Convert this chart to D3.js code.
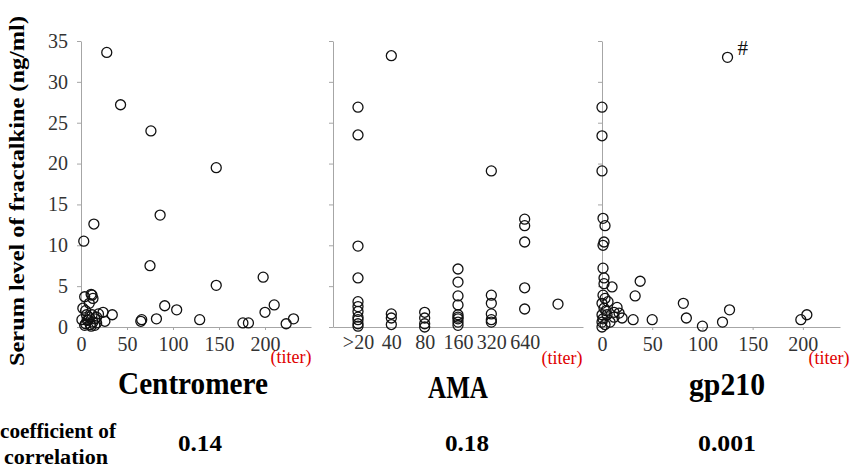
<!DOCTYPE html>
<html>
<head>
<meta charset="utf-8">
<script src="https://cdn.jsdelivr.net/npm/d3@7"></script>
<style>
  body { margin: 0; background: #fff; }
  svg { display: block; font-family: "Liberation Serif", "Times New Roman", serif; }
</style>
</head>
<body>
<svg id="chart"></svg>
<script>
// Serum fractalkine (ng/ml) vs. antibody titer, one array per panel
const yTicks = [0, 5, 10, 15, 20, 25, 30, 35];

// Centromere: [titer, fractalkine]
const centromereData = [
  [1, 0.9], [2, 2.3], [3, 10.5], [4, 3.7], [4, 0.2], [5, 0.4], [5, 2.0], [6, 1.5],
  [7, 0.8], [8, 0.9], [9, 2.9], [9, 1.2], [10, 0.3], [11, 4.0], [11, 0.1], [12, 3.9],
  [12, 1.5], [13, 3.5], [13, 0.6], [14, 12.6], [15, 0.2], [15, 1.0], [17, 1.2], [17, 0.5],
  [19, 1.6], [24, 1.8], [26, 0.7], [28, 33.6], [34, 1.5], [43, 27.2], [65, 0.7], [66, 0.9],
  [75, 7.5], [76, 24.0], [82, 1.0], [86, 13.7], [91, 2.6], [104, 2.1], [129, 0.9], [147, 19.5],
  [147, 5.1], [176, 0.5], [182, 0.5], [198, 6.1], [200, 1.8], [210, 2.7], [223, 0.4], [231, 1.0]
];

// AMA: category titer -> values
const amaCategories = [">20", "40", "80", "160", "320", "640", ""];
const amaValues = [
  [26.9, 23.5, 9.9, 6.0, 3.1, 2.5, 1.9, 1.2, 0.9, 0.4, 0.1],
  [33.2, 1.6, 1.1, 0.3],
  [1.8, 1.1, 0.4, 0.0],
  [7.1, 5.5, 3.8, 2.7, 1.5, 1.2, 1.0, 0.6, 0.2],
  [19.1, 3.9, 2.9, 1.6, 0.9, 0.6],
  [13.2, 12.4, 10.4, 4.8, 2.2],
  [2.8]
];

// gp210: [titer, fractalkine]
const gp210Data = [
  [0, 26.9], [0, 23.4], [0, 19.1], [1, 13.3], [3, 12.4], [2, 10.4], [1, 10.0], [1, 7.2],
  [2, 6.0], [2, 5.3], [10, 4.9], [38, 5.6], [33, 3.8], [3, 3.5], [1, 3.9], [0, 2.9],
  [6, 3.1], [15, 2.4], [2, 2.3], [12, 1.8], [17, 1.7], [20, 1.1], [0, 1.5], [5, 1.5],
  [0, 0.6], [3, 0.3], [0, 0.0], [8, 0.6], [12, 1.2], [4, 2.0], [1, 1.0], [31, 0.9],
  [50, 0.9], [81, 2.9], [84, 1.1], [100, 0.1], [120, 0.6], [127, 2.1], [198, 0.9], [204, 1.5],
  [125, 33.0]
];
const gp210Outlier = [125, 33.0];

const titerTicks = [0, 50, 100, 150, 200];
const panelTitles = ["Centromere", "AMA", "gp210"];
const coefficients = ["0.14", "0.18", "0.001"];

const width = 854, height = 468;
const svg = d3.select('#chart').attr('width', width).attr('height', height);

const y = d3.scaleLinear().domain([0, 35]).range([327, 41]);
const axisGrey = '#a6a6a6';
const tickText = '#333';

function styleAxis(g) {
  g.selectAll('path, line').attr('stroke', axisGrey);
  g.selectAll('text').attr('fill', tickText).attr('font-size', 20)
    .attr('font-family', '"Liberation Serif", serif');
}

function drawPoints(points, xs) {
  svg.append('g').selectAll('circle')
    .data(points)
    .join('circle')
    .attr('cx', d => xs(d[0]))
    .attr('cy', d => y(d[1]))
    .attr('r', 5)
    .attr('fill', 'none')
    .attr('stroke', '#111')
    .attr('stroke-width', 1.3);
}

// Panel 1: Centromere
const x1 = d3.scaleLinear().domain([0, 250]).range([81, 311]);
svg.append('g').attr('transform', 'translate(81,0)')
  .call(d3.axisLeft(y).tickValues(yTicks).tickSize(4).tickSizeOuter(0).tickPadding(9))
  .call(styleAxis);
svg.append('g').attr('transform', 'translate(0,327)')
  .call(d3.axisBottom(x1).tickValues(titerTicks).tickSize(3).tickSizeOuter(0).tickPadding(7))
  .call(styleAxis);
drawPoints(centromereData, x1);

// Panel 2: AMA (categorical titer)
const x2 = d3.scalePoint().domain(amaCategories).range([333, 583]).padding(0.75);
svg.append('g').attr('transform', 'translate(333,0)')
  .call(d3.axisLeft(y).tickValues(yTicks).tickSize(4).tickSizeOuter(0).tickFormat(''))
  .call(styleAxis);
svg.append('g').attr('transform', 'translate(0,327)')
  .call(d3.axisBottom(x2).tickSize(0).tickPadding(8))
  .call(styleAxis);
const amaPoints = amaValues.flatMap((vals, i) => vals.map(v => [amaCategories[i], v]));
drawPoints(amaPoints, x2);

// Panel 3: gp210
const x3 = d3.scaleLinear().domain([0, 237]).range([602, 840]);
svg.append('g').attr('transform', 'translate(602,0)')
  .call(d3.axisLeft(y).tickValues(yTicks).tickSize(4).tickSizeOuter(0).tickFormat(''))
  .call(styleAxis);
svg.append('g').attr('transform', 'translate(0,327)')
  .call(d3.axisBottom(x3).tickValues(titerTicks).tickSize(3).tickSizeOuter(0).tickPadding(7))
  .call(styleAxis);
drawPoints(gp210Data, x3);

svg.append('text')
  .attr('x', x3(gp210Outlier[0]) + 10)
  .attr('y', y(gp210Outlier[1]) - 2)
  .attr('font-size', 21)
  .attr('fill', '#111')
  .text('#');

// "(titer)" labels
[[291, 363], [562, 364], [829, 364]].forEach(([tx, ty]) => {
  svg.append('text')
    .attr('x', tx).attr('y', ty)
    .attr('text-anchor', 'middle')
    .attr('font-size', 18)
    .attr('fill', '#e00000')
    .text('(titer)');
});

// Y axis title
svg.append('text')
  .attr('transform', 'translate(24,191) rotate(-90)')
  .attr('text-anchor', 'middle')
  .attr('font-weight', 'bold')
  .attr('font-size', 22)
  .attr('textLength', 350)
  .attr('lengthAdjust', 'spacingAndGlyphs')
  .attr('fill', '#000')
  .text('Serum level of fractalkine (ng/ml)');

// Panel titles
const titlePos = [[193, 394, 150], [458, 398, 60], [727, 395, 76]];
panelTitles.forEach((t, i) => {
  const [tx, ty, w] = titlePos[i];
  svg.append('text')
    .attr('x', tx - w / 2).attr('y', ty)
    .attr('font-weight', 'bold')
    .attr('font-size', 32)
    .attr('textLength', w)
    .attr('lengthAdjust', 'spacingAndGlyphs')
    .attr('fill', '#000')
    .text(t);
});

// Correlation row
svg.append('text')
  .attr('x', 0).attr('y', 438)
  .attr('font-weight', 'bold').attr('font-size', 20)
  .attr('textLength', 116).attr('lengthAdjust', 'spacingAndGlyphs')
  .text('coefficient of');
svg.append('text')
  .attr('x', 4).attr('y', 464)
  .attr('font-weight', 'bold').attr('font-size', 20)
  .attr('textLength', 104).attr('lengthAdjust', 'spacingAndGlyphs')
  .text('correlation');

const coefPos = [[200, 44], [467, 44], [727, 58]];
coefficients.forEach((c, i) => {
  const [cx, w] = coefPos[i];
  svg.append('text')
    .attr('x', cx - w / 2).attr('y', 451)
    .attr('font-weight', 'bold').attr('font-size', 24)
    .attr('textLength', w).attr('lengthAdjust', 'spacingAndGlyphs')
    .text(c);
});
</script>
</body>
</html>
